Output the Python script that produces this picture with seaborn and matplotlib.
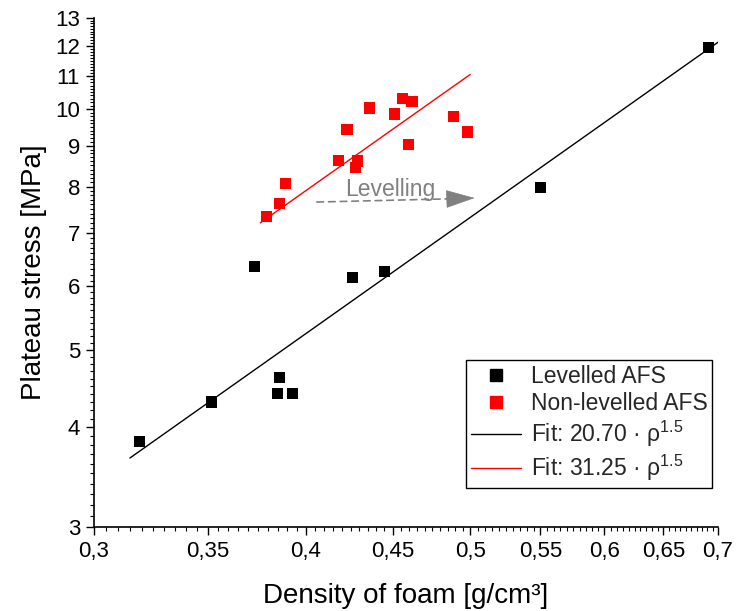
import numpy as np
import pandas as pd
import matplotlib
matplotlib.use("Agg")
import matplotlib.pyplot as plt
import seaborn as sns
from matplotlib.ticker import FixedLocator, FuncFormatter, NullFormatter
from matplotlib.lines import Line2D

# ---- data ----
lev_density = [0.319, 0.352, 0.373, 0.386, 0.385, 0.393, 0.426, 0.445, 0.550, 0.691]
lev_stress = [3.84, 4.30, 6.36, 4.62, 4.41, 4.41, 6.16, 6.27, 7.97, 11.93]

non_density = [0.379, 0.386, 0.389, 0.418, 0.423, 0.429, 0.428, 0.436,
               0.451, 0.456, 0.462, 0.460, 0.489, 0.498]
non_stress = [7.33, 7.61, 8.06, 8.63, 9.42, 8.61, 8.46, 10.03,
              9.86, 10.32, 10.21, 9.04, 9.80, 9.36]

fit_lev_coef = 20.70
fit_non_coef = 31.25
fit_exp = 1.5
fit_lev_range = [0.315, 0.70]
fit_non_range = [0.376, 0.50]

x_ticks = [0.30, 0.35, 0.40, 0.45, 0.50, 0.55, 0.60, 0.65, 0.70]
y_ticks = [3, 4, 5, 6, 7, 8, 9, 10, 11, 12, 13]

group_names = ["Levelled AFS", "Non-levelled AFS"]
fit_labels = ["Fit: 20.70 · ρ$^{1.5}$", "Fit: 31.25 · ρ$^{1.5}$"]

arrow_start = (0.406, 7.65)
arrow_head_base = (0.4905, 7.725)
arrow_end = (0.503, 7.74)
arrow_text_pos = (0.4485, 7.78)

# ---- tables ----
pts = pd.DataFrame({
    "density": lev_density + non_density,
    "stress": lev_stress + non_stress,
    "group": [group_names[0]] * len(lev_density) + [group_names[1]] * len(non_density),
})
fit = pd.DataFrame({
    "density": fit_lev_range + fit_non_range,
    "stress": [fit_lev_coef * d ** fit_exp for d in fit_lev_range]
              + [fit_non_coef * d ** fit_exp for d in fit_non_range],
    "fit": [fit_labels[0]] * 2 + [fit_labels[1]] * 2,
})

sns.set_theme(style="ticks")
plt.rcParams["font.family"] = ["Liberation Sans", "DejaVu Sans"]
plt.rcParams["mathtext.default"] = "regular"

fig = plt.figure(figsize=(7.36, 6.11), dpi=100)
ax = fig.add_axes([94 / 736, 1 - 527 / 611, (718 - 94) / 736, (527 - 18) / 611])
ax.set_xscale("log")
ax.set_yscale("log")

colors = {group_names[0]: "black", group_names[1]: "#ff0000",
          fit_labels[0]: "black", fit_labels[1]: "#ff0000"}

sns.lineplot(data=fit, x="density", y="stress", hue="fit", palette=colors,
             linewidth=1.0, legend=False, ax=ax, estimator=None, sort=False)
sns.scatterplot(data=pts, x="density", y="stress", hue="group", palette=colors,
                marker="s", s=64, linewidth=0, legend=False, ax=ax, zorder=3)

ax.set_xlim(0.3, 0.7)
ax.set_ylim(3, 13)

fmt = FuncFormatter(lambda v, p: f"{v:g}".replace(".", ","))
ax.xaxis.set_major_locator(FixedLocator(x_ticks))
ax.xaxis.set_minor_locator(FixedLocator(np.arange(0.3, 0.7001, 0.005)))
ax.xaxis.set_major_formatter(fmt)
ax.xaxis.set_minor_formatter(NullFormatter())
ax.yaxis.set_major_locator(FixedLocator(y_ticks))
ax.yaxis.set_minor_locator(FixedLocator(np.arange(3.0, 13.001, 0.1)))
ax.yaxis.set_major_formatter(fmt)
ax.yaxis.set_minor_formatter(NullFormatter())

ax.tick_params(which="major", direction="out", length=6, width=1.0,
               labelsize=16, color="black", labelcolor="black", pad=4)
ax.tick_params(which="minor", direction="out", length=3, width=0.8, color="black")

for s in ["top", "right"]:
    ax.spines[s].set_visible(False)
for s in ["left", "bottom"]:
    ax.spines[s].set_color("black")
    ax.spines[s].set_linewidth(1.2)

ax.set_xlabel("Density of foam [g/cm³]", fontsize=20, color="black", labelpad=15)
ax.set_ylabel("Plateau stress [MPa]", fontsize=20, color="black", labelpad=6)

# annotation: dashed shaft + solid head
ax.annotate("", xy=arrow_head_base, xytext=arrow_start,
            arrowprops=dict(arrowstyle="-", linestyle=(0, (4, 3)), color="#808080",
                            lw=1.2, shrinkA=0, shrinkB=0))
ax.annotate("", xy=arrow_end, xytext=arrow_head_base,
            arrowprops=dict(arrowstyle="-|>,head_length=0.8,head_width=0.25",
                            color="#808080", lw=0.5, mutation_scale=24,
                            shrinkA=0, shrinkB=0))
ax.text(arrow_text_pos[0], arrow_text_pos[1], "Levelling", color="#808080",
        fontsize=16.5, ha="center", va="baseline")

handles = [
    Line2D([], [], marker="s", color="black", linestyle="None", markersize=8),
    Line2D([], [], marker="s", color="#ff0000", linestyle="None", markersize=8),
    Line2D([], [], color="black", lw=1.0),
    Line2D([], [], color="#ff0000", lw=1.0),
]
leg = ax.legend(handles, group_names + fit_labels, loc="upper right",
                bbox_to_anchor=(712 / 736, 1 - 360 / 611),
                bbox_transform=fig.transFigure, borderaxespad=0,
                fontsize=16.5, frameon=True, fancybox=False, framealpha=1,
                edgecolor="black", handlelength=2.2, labelspacing=0.18,
                borderpad=0.2, handletextpad=0.4)
leg.get_frame().set_linewidth(1.0)

fig.savefig("out.png", dpi=100)
